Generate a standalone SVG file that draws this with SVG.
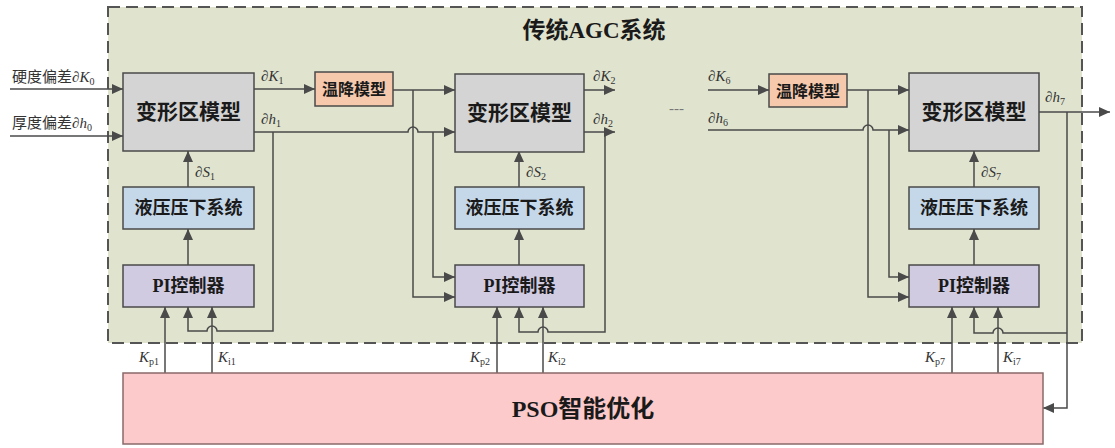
<svg xmlns="http://www.w3.org/2000/svg" width="1115" height="448" viewBox="0 0 1115 448">
<defs>
<marker id="arr" markerUnits="userSpaceOnUse" markerWidth="12" markerHeight="10" refX="11" refY="5" orient="auto">
<path d="M0,0 L11,5 L0,10 z" fill="#4a4a4a"/>
</marker>
<style>
.c{fill:none;stroke:#4a4a4a;stroke-width:1.5}
.a{marker-end:url(#arr)}
.box{stroke:#4a4a4a;stroke-width:1.5}
.gray{fill:#d4d4d4}
.tmp{fill:#f6c9ad}
.hyd{fill:#c5d8ea}
.pi{fill:#d1cbe2}
.bt{font-family:"Liberation Serif","Noto Sans CJK SC",serif;font-weight:bold;fill:#1a1a1a;text-anchor:middle}
.lb{font-family:"Liberation Serif","Noto Sans CJK SC",serif;font-size:15px;fill:#333}
.it{font-style:italic}
.sb{font-size:10px;font-style:normal}
</style>
</defs>
<rect width="1115" height="448" fill="#ffffff"/>
<g id="agc-system">
<rect x="108" y="7" width="974" height="336" fill="#e0e4cf" stroke="#555" stroke-width="2" stroke-dasharray="12,6"/>
<text class="bt" x="594" y="38" font-size="23">传统AGC系统</text>
</g>
<g id="connectors">
<path class="c a" d="M10,89 H123"/>
<path class="c a" d="M10,136 H123"/>
<path class="c a" d="M254,89 H315"/>
<path class="c a" d="M254,132 H408 A5,5 0 0 1 418,132 H455"/>
<path class="c a" d="M273,132 V331 H217 A5,5 0 0 0 207,331 H188 V307"/>
<path class="c a" d="M393,90 H455"/>
<path class="c a" d="M413,90 V297 H455"/>
<path class="c a" d="M433,132 V277 H455"/>
<path class="c a" d="M188,265 V229"/>
<path class="c a" d="M188,187 V151"/>
<path class="c a" d="M165,373 V307"/>
<path class="c a" d="M212,373 V307"/>
<path class="c a" d="M584,90 H615"/>
<path class="c a" d="M584,132 H615"/>
<path class="c a" d="M605,132 V332 H548 A5,5 0 0 0 538,332 H519 V307"/>
<path class="c a" d="M519,265 V229"/>
<path class="c a" d="M519,187 V151"/>
<path class="c a" d="M497,373 V307"/>
<path class="c a" d="M543,373 V307"/>
<path class="c a" d="M708,90 H769"/>
<path class="c a" d="M847,90 H909"/>
<path class="c a" d="M868,90 V297 H909"/>
<path class="c a" d="M708,130 H863 A5,5 0 0 1 873,130 H909"/>
<path class="c a" d="M889,130 V277 H909"/>
<path class="c a" d="M1039,112 H1110"/>
<path class="c a" d="M1067,112 V408 H1043"/>
<path class="c a" d="M1067,333 H1003 A5,5 0 0 0 993,333 H974 V307"/>
<path class="c a" d="M974,265 V229"/>
<path class="c a" d="M974,187 V151"/>
<path class="c a" d="M952,373 V307"/>
<path class="c a" d="M998,373 V307"/>
</g>
<g id="labels" class="lb">
<text x="12" y="82">硬度偏差<tspan class="it">∂K</tspan><tspan class="sb" dy="3">0</tspan></text>
<text x="12" y="128">厚度偏差<tspan class="it">∂h</tspan><tspan class="sb" dy="3">0</tspan></text>
<text x="261" y="81"><tspan class="it">∂K</tspan><tspan class="sb" dy="3">1</tspan></text>
<text x="261" y="124"><tspan class="it">∂h</tspan><tspan class="sb" dy="3">1</tspan></text>
<text x="195" y="177"><tspan class="it">∂S</tspan><tspan class="sb" dy="3">1</tspan></text>
<text x="593" y="81"><tspan class="it">∂K</tspan><tspan class="sb" dy="3">2</tspan></text>
<text x="593" y="124"><tspan class="it">∂h</tspan><tspan class="sb" dy="3">2</tspan></text>
<text x="526" y="177"><tspan class="it">∂S</tspan><tspan class="sb" dy="3">2</tspan></text>
<text x="708" y="81"><tspan class="it">∂K</tspan><tspan class="sb" dy="3">6</tspan></text>
<text x="708" y="123"><tspan class="it">∂h</tspan><tspan class="sb" dy="3">6</tspan></text>
<text x="1045" y="102"><tspan class="it">∂h</tspan><tspan class="sb" dy="3">7</tspan></text>
<text x="981" y="177"><tspan class="it">∂S</tspan><tspan class="sb" dy="3">7</tspan></text>
<text x="139" y="362"><tspan class="it">K</tspan><tspan class="sb" dy="3">p1</tspan></text>
<text x="218" y="362"><tspan class="it">K</tspan><tspan class="sb" dy="3">i1</tspan></text>
<text x="470" y="362"><tspan class="it">K</tspan><tspan class="sb" dy="3">p2</tspan></text>
<text x="548" y="362"><tspan class="it">K</tspan><tspan class="sb" dy="3">i2</tspan></text>
<text x="925" y="362"><tspan class="it">K</tspan><tspan class="sb" dy="3">p7</tspan></text>
<text x="1003" y="362"><tspan class="it">K</tspan><tspan class="sb" dy="3">i7</tspan></text>
<text x="669" y="113" fill="#777">---</text>
</g>
<g id="deform1"><rect class="box gray" x="123" y="73" width="131" height="78"/><text class="bt" x="188.5" y="119" font-size="21">变形区模型</text></g>
<g id="hyd1"><rect class="box hyd" x="123" y="187" width="131" height="42"/><text class="bt" x="188.5" y="214" font-size="18">液压压下系统</text></g>
<g id="pi1"><rect class="box pi" x="123" y="265" width="131" height="42"/><text class="bt" x="188.5" y="292" font-size="18">PI控制器</text></g>
<g id="temp1"><rect class="box tmp" x="315" y="72" width="78" height="34"/><text class="bt" x="354" y="95" font-size="16">温降模型</text></g>
<g id="deform2"><rect class="box gray" x="455" y="74" width="129" height="78"/><text class="bt" x="519.5" y="120" font-size="21">变形区模型</text></g>
<g id="hyd2"><rect class="box hyd" x="455" y="187" width="129" height="42"/><text class="bt" x="519.5" y="214" font-size="18">液压压下系统</text></g>
<g id="pi2"><rect class="box pi" x="455" y="265" width="129" height="42"/><text class="bt" x="519.5" y="292" font-size="18">PI控制器</text></g>
<g id="temp6"><rect class="box tmp" x="769" y="74" width="78" height="33"/><text class="bt" x="808" y="97" font-size="16">温降模型</text></g>
<g id="deform7"><rect class="box gray" x="909" y="73" width="130" height="78"/><text class="bt" x="974" y="119" font-size="21">变形区模型</text></g>
<g id="hyd7"><rect class="box hyd" x="909" y="187" width="130" height="42"/><text class="bt" x="974" y="214" font-size="18">液压压下系统</text></g>
<g id="pi7"><rect class="box pi" x="909" y="265" width="130" height="42"/><text class="bt" x="974" y="292" font-size="18">PI控制器</text></g>
<g id="pso"><rect x="123" y="373" width="920" height="71" fill="#fccaca" stroke="#8a6a6a" stroke-width="1.5"/><text class="bt" x="583" y="417" font-size="24">PSO智能优化</text></g>
</svg>
